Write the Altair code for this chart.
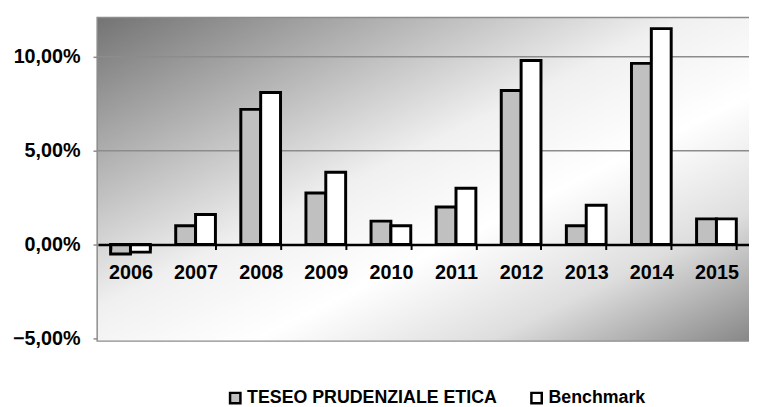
import altair as alt
import pandas as pd

years = ["2006", "2007", "2008", "2009", "2010", "2011", "2012", "2013", "2014", "2015"]
series_names = ["TESEO PRUDENZIALE ETICA", "Benchmark"]
teseo = [-0.5, 1.0, 7.2, 2.75, 1.25, 2.0, 8.2, 1.0, 9.65, 1.37]
benchmark = [-0.4, 1.6, 8.1, 3.85, 1.0, 3.0, 9.8, 2.1, 11.5, 1.37]
y_ticks = [-5, 0, 5, 10]
grid_values = [5, 10]

rows = []
for i, y in enumerate(years):
    rows.append({"year": y, "series": series_names[0], "value": teseo[i]})
    rows.append({"year": y, "series": series_names[1], "value": benchmark[i]})
df = pd.DataFrame(rows)

W, H = 659, 326
FONT = "Liberation Sans"

yscale = alt.Scale(domain=[-5.1, 12.05], nice=False, zero=False)
yaxis = alt.Axis(
    title=None,
    values=y_ticks,
    grid=False,
    domain=False,
    tickColor="#8c8c8c",
    tickSize=5,
    tickWidth=1.5,
    labelPadding=13,
    labelFont=FONT,
    labelFontSize=20,
    labelFontWeight="bold",
    labelColor="black",
    labelExpr="replace(format(datum.value, '.2f'), '.', ',') + '%'",
)

gradient = alt.Gradient(
    gradient="linear",
    x1=0, y1=0, x2=1, y2=1,
    stops=[
        alt.GradientStop(offset=0, color="#747474"),
        alt.GradientStop(offset=0.45, color="#f0f0f0"),
        alt.GradientStop(offset=0.62, color="#ffffff"),
        alt.GradientStop(offset=0.8, color="#dedede"),
        alt.GradientStop(offset=1, color="#888888"),
    ],
)

bg = alt.Chart(pd.DataFrame({"a": [0]})).mark_rect(color=gradient).encode(
    x=alt.value(0), x2=alt.value(W), y=alt.value(0), y2=alt.value(H)
)

grid = alt.Chart(pd.DataFrame({"v": grid_values})).mark_rule(
    color="#8c8c8c", strokeWidth=1.5
).encode(y=alt.Y("v:Q", scale=yscale, axis=yaxis))

bars = alt.Chart(df).mark_bar(stroke="black", strokeWidth=3).encode(
    x=alt.X(
        "year:N",
        sort=years,
        scale=alt.Scale(paddingInner=0.39, paddingOuter=0.195),
        axis=alt.Axis(
            title=None,
            orient="bottom",
            offset=-97,
            domainColor="black",
            domainWidth=2.5,
            tickColor="black",
            tickWidth=2,
            tickSize=5,
            tickBand="extent",
            labelPadding=13,
            labelFont=FONT,
            labelFontSize=20,
            labelFontWeight="bold",
            labelColor="black",
            labelAngle=0,
            zindex=1,
        ),
    ),
    xOffset=alt.XOffset("series:N", sort=series_names),
    y=alt.Y("value:Q", scale=yscale, axis=yaxis),
    color=alt.Color(
        "series:N",
        sort=series_names,
        scale=alt.Scale(domain=series_names, range=["#c0c0c0", "#ffffff"]),
        legend=alt.Legend(
            title=None,
            orient="none",
            legendX=130,
            legendY=375,
            direction="horizontal",
            columns=2,
            columnPadding=28,
            symbolType="square",
            symbolSize=110,
            symbolStrokeColor="black",
            symbolStrokeWidth=2.5,
            symbolOpacity=1,
            labelOffset=3,
            labelFont=FONT,
            labelFontSize=18,
            labelFontWeight="bold",
            labelColor="black",
            labelLimit=400,
        ),
    ),
)

chart = alt.layer(bg, grid, bars).properties(
    width=W,
    height=H,
    autosize=alt.AutoSizeParams(type="none"),
    padding={"left": 91, "top": 8, "right": 0, "bottom": 64},
).configure_view(stroke="#8c8c8c", strokeWidth=3)

chart.save("out.html", embed_options={"renderer": "svg", "actions": False})
